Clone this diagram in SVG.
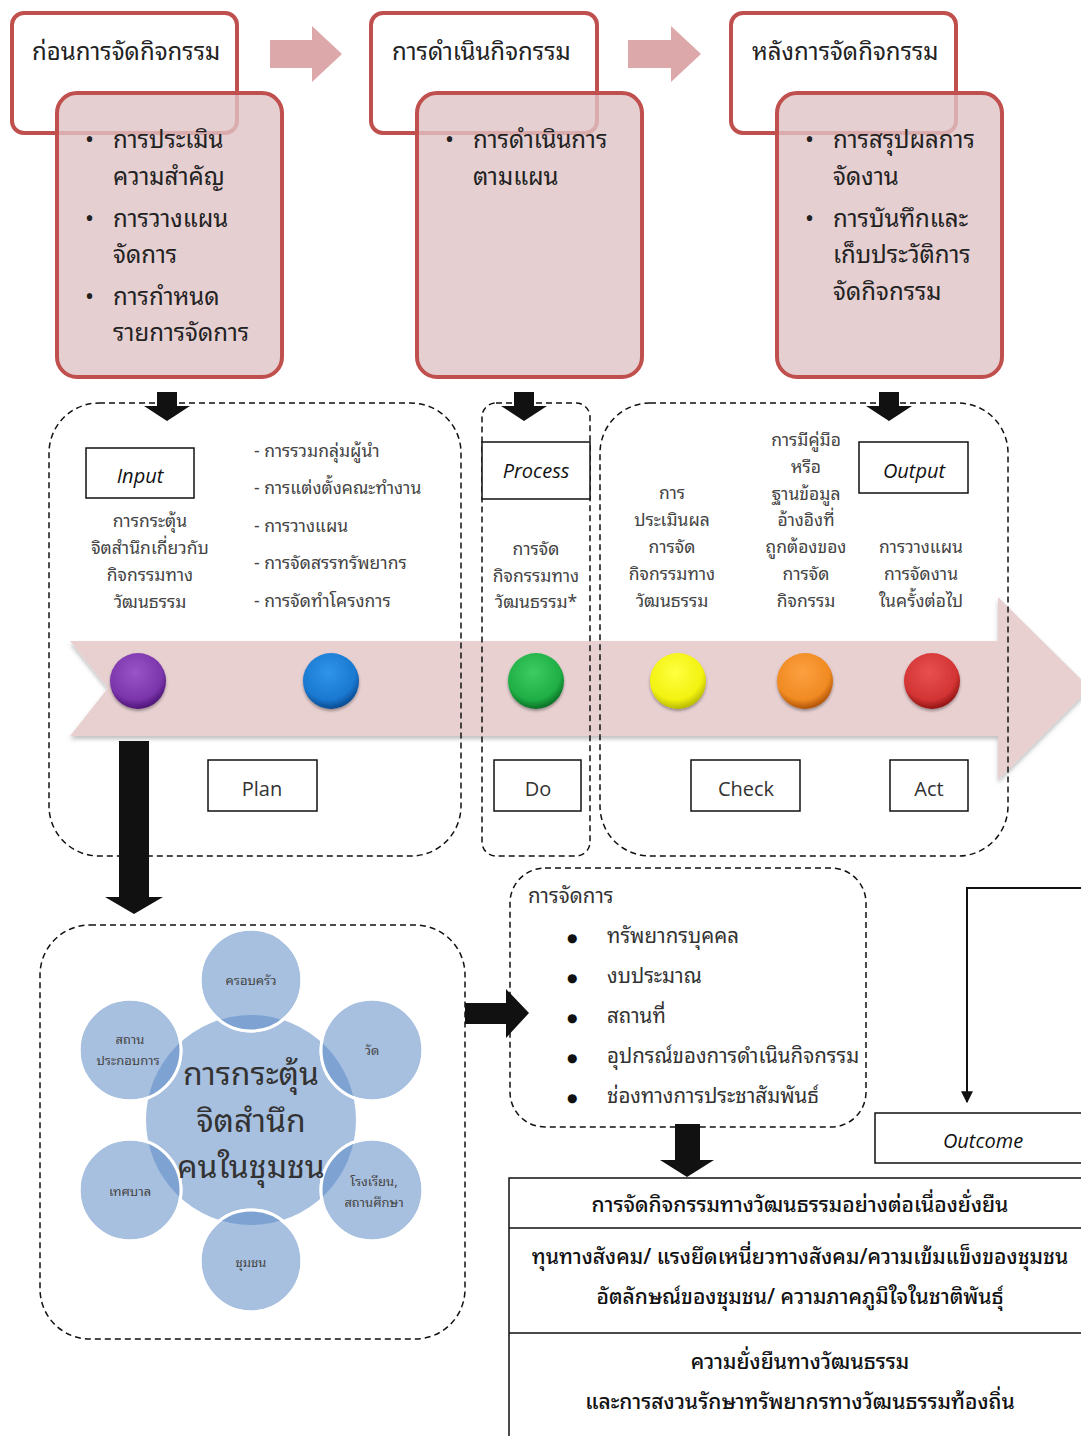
<svg xmlns="http://www.w3.org/2000/svg" width="1081" height="1436" viewBox="0 0 1081 1436">
<style>
text{font-family:"Noto Sans Thai Looped","Noto Sans Thai","Loma","Garuda","Norasi","Tlwg Typo","Noto Sans","DejaVu Sans",sans-serif;}
.en{font-family:"Open Sans","Noto Sans","Liberation Sans",sans-serif;}
.title{font-size:24px;fill:#222;}
.bul{font-size:24px;fill:#222;}
.small{font-size:17.5px;fill:#444;}
.mid{text-anchor:middle;}
.lbl{font-size:20px;fill:#333;text-anchor:middle;}
.ital{font-size:20px;fill:#111;font-style:italic;text-anchor:middle;}
.wbox{fill:#fff;stroke:#c0504d;stroke-width:4;}
.pbox{fill:#e0c3c5;fill-opacity:0.8;stroke:#c0504d;stroke-width:4;}
.dash{fill:none;stroke:#111;stroke-width:1.5;stroke-dasharray:6 4;}
.sbox{fill:#fff;stroke:#111;stroke-width:1.5;}
.blk{fill:#111;}
.parr{fill:#dca8aa;}
.sat{fill:#a8c0e0;stroke:#fff;stroke-width:3;}
.ovl{fill:#7ea3d3;}
.sattx{font-size:13px;fill:#444;text-anchor:middle;}
.mg{font-size:20.5px;fill:#333;}
.dot{font-size:12px;fill:#111;font-family:"DejaVu Sans",sans-serif;}
.tb{font-size:21px;fill:#111;text-anchor:middle;font-weight:500;}
</style>
<defs>
<filter id="sh" x="-10%" y="-10%" width="120%" height="130%">
<feDropShadow dx="0" dy="3" stdDeviation="2" flood-color="#000" flood-opacity="0.25"/>
</filter>
<filter id="bsh" x="-30%" y="-30%" width="160%" height="160%">
<feDropShadow dx="0" dy="2" stdDeviation="1.5" flood-color="#000" flood-opacity="0.35"/>
</filter>
<radialGradient id="gPurple" cx="45%" cy="35%" r="65%"><stop offset="0" stop-color="#9a55c8"/><stop offset="0.75" stop-color="#7a35aa"/><stop offset="1" stop-color="#4e1478"/></radialGradient>
<radialGradient id="gBlue" cx="45%" cy="35%" r="65%"><stop offset="0" stop-color="#2f95ea"/><stop offset="0.75" stop-color="#1a78d0"/><stop offset="1" stop-color="#0a4a90"/></radialGradient>
<radialGradient id="gGreen" cx="45%" cy="35%" r="65%"><stop offset="0" stop-color="#3ccc62"/><stop offset="0.75" stop-color="#1fae45"/><stop offset="1" stop-color="#0a6e25"/></radialGradient>
<radialGradient id="gYellow" cx="45%" cy="35%" r="65%"><stop offset="0" stop-color="#ffff40"/><stop offset="0.75" stop-color="#f2f210"/><stop offset="1" stop-color="#b8b800"/></radialGradient>
<radialGradient id="gOrange" cx="45%" cy="35%" r="65%"><stop offset="0" stop-color="#fca040"/><stop offset="0.75" stop-color="#f08a22"/><stop offset="1" stop-color="#b05208"/></radialGradient>
<radialGradient id="gRed" cx="45%" cy="35%" r="65%"><stop offset="0" stop-color="#e85050"/><stop offset="0.75" stop-color="#d33434"/><stop offset="1" stop-color="#901414"/></radialGradient>
<clipPath id="c1"><circle cx="251" cy="980" r="51"/></clipPath>
<clipPath id="c2"><circle cx="372" cy="1050" r="51"/></clipPath>
<clipPath id="c3"><circle cx="372" cy="1190" r="51"/></clipPath>
<clipPath id="c4"><circle cx="251" cy="1261" r="51"/></clipPath>
<clipPath id="c5"><circle cx="130" cy="1190" r="51"/></clipPath>
<clipPath id="c6"><circle cx="130" cy="1050" r="51"/></clipPath>
<marker id="ah" viewBox="0 0 10 10" refX="9" refY="5" markerWidth="6" markerHeight="6" orient="auto"><path d="M0,0 L10,5 L0,10 Z" fill="#111"/></marker>
</defs>

<rect width="1081" height="1436" fill="#fff"/>

<!-- Top stages -->
<g id="stage-before">
<rect class="wbox" x="12" y="13" width="225" height="120" rx="12"/>
<text class="title" x="32" y="60">ก่อนการจัดกิจกรรม</text>
<rect class="pbox" x="57" y="93" width="225" height="284" rx="20"/>
<text class="bul" x="85" y="148">•</text><text class="bul" x="113" y="148">การประเมิน</text>
<text class="bul" x="113" y="185">ความสำคัญ</text>
<text class="bul" x="85" y="227">•</text><text class="bul" x="113" y="227">การวางแผน</text>
<text class="bul" x="113" y="263">จัดการ</text>
<text class="bul" x="85" y="305">•</text><text class="bul" x="113" y="305">การกำหนด</text>
<text class="bul" x="113" y="341">รายการจัดการ</text>
</g>
<g id="stage-during">
<rect class="wbox" x="371" y="13" width="226" height="120" rx="12"/>
<text class="title" x="392" y="60">การดำเนินกิจกรรม</text>
<rect class="pbox" x="417" y="93" width="225" height="284" rx="20"/>
<text class="bul" x="445" y="148">•</text><text class="bul" x="473" y="148">การดำเนินการ</text>
<text class="bul" x="473" y="185">ตามแผน</text>
</g>
<g id="stage-after">
<rect class="wbox" x="731" y="13" width="225" height="120" rx="12"/>
<text class="title" x="752" y="60">หลังการจัดกิจกรรม</text>
<rect class="pbox" x="777" y="93" width="225" height="284" rx="20"/>
<text class="bul" x="805" y="148">•</text><text class="bul" x="833" y="148">การสรุปผลการ</text>
<text class="bul" x="833" y="185">จัดงาน</text>
<text class="bul" x="805" y="227">•</text><text class="bul" x="833" y="227">การบันทึกและ</text>
<text class="bul" x="833" y="263">เก็บประวัติการ</text>
<text class="bul" x="833" y="300">จัดกิจกรรม</text>
</g>

<!-- Big timeline arrow -->
<g id="timeline">
<path d="M70,641 L998,641 L998,597 L1090,688 L998,780 L998,736 L70,736 L108,688 Z" fill="#e8d0d1" filter="url(#sh)"/>
<g filter="url(#bsh)">
<circle cx="138" cy="681" r="28" fill="url(#gPurple)"/>
<circle cx="331" cy="681" r="28" fill="url(#gBlue)"/>
<circle cx="536" cy="681" r="28" fill="url(#gGreen)"/>
<circle cx="678" cy="681" r="28" fill="url(#gYellow)"/>
<circle cx="805" cy="681" r="28" fill="url(#gOrange)"/>
<circle cx="932" cy="681" r="28" fill="url(#gRed)"/>
</g>
</g>

<!-- Dashed phase groups -->
<g id="group-plan"><rect class="dash" x="49" y="403" width="412" height="453" rx="50"/></g>
<g id="group-do"><rect class="dash" x="482" y="403" width="108" height="453" rx="14"/></g>
<g id="group-check-act"><rect class="dash" x="600" y="403" width="408" height="453" rx="50"/></g>

<g id="input">
<rect class="sbox" x="86" y="448" width="108" height="50"/>
<text class="ital en" x="140" y="483">Input</text>
<text class="small mid" x="150" y="527">การกระตุ้น</text>
<text class="small mid" x="150" y="554">จิตสำนึกเกี่ยวกับ</text>
<text class="small mid" x="150" y="581">กิจกรรมทาง</text>
<text class="small mid" x="150" y="608">วัฒนธรรม</text>
</g>
<g id="plan-list">
<text class="small" x="254" y="457">- การรวมกลุ่มผู้นำ</text>
<text class="small" x="254" y="494">- การแต่งตั้งคณะทำงาน</text>
<text class="small" x="254" y="532">- การวางแผน</text>
<text class="small" x="254" y="569">- การจัดสรรทรัพยากร</text>
<text class="small" x="254" y="607">- การจัดทำโครงการ</text>
</g>
<g id="process">
<rect class="sbox" x="482" y="442" width="108" height="57"/>
<text class="ital en" x="536" y="478">Process</text>
<text class="small mid" x="536" y="555">การจัด</text>
<text class="small mid" x="536" y="582">กิจกรรมทาง</text>
<text class="small mid" x="536" y="608">วัฒนธรรม*</text>
</g>
<g id="check-text">
<text class="small mid" x="672" y="499">การ</text>
<text class="small mid" x="672" y="526">ประเมินผล</text>
<text class="small mid" x="672" y="553">การจัด</text>
<text class="small mid" x="672" y="580">กิจกรรมทาง</text>
<text class="small mid" x="672" y="607">วัฒนธรรม</text>
</g>
<g id="manual-text">
<text class="small mid" x="806" y="446">การมีคู่มือ</text>
<text class="small mid" x="806" y="473">หรือ</text>
<text class="small mid" x="806" y="500">ฐานข้อมูล</text>
<text class="small mid" x="806" y="526">อ้างอิงที่</text>
<text class="small mid" x="806" y="553">ถูกต้องของ</text>
<text class="small mid" x="806" y="580">การจัด</text>
<text class="small mid" x="806" y="607">กิจกรรม</text>
</g>
<g id="output">
<rect class="sbox" x="859" y="442" width="109" height="51"/>
<text class="ital en" x="914" y="478">Output</text>
<text class="small mid" x="921" y="553">การวางแผน</text>
<text class="small mid" x="921" y="580">การจัดงาน</text>
<text class="small mid" x="921" y="607">ในครั้งต่อไป</text>
</g>

<g id="plan"><rect class="sbox" x="208" y="760" width="109" height="51"/><text class="lbl en" x="262" y="796">Plan</text></g>
<g id="do"><rect class="sbox" x="494" y="760" width="87" height="51"/><text class="lbl en" x="538" y="796">Do</text></g>
<g id="check"><rect class="sbox" x="691" y="760" width="109" height="51"/><text class="lbl en" x="746" y="796">Check</text></g>
<g id="act"><rect class="sbox" x="890" y="760" width="78" height="51"/><text class="lbl en" x="929" y="796">Act</text></g>

<!-- Community cluster -->
<g id="community">
<rect class="dash" x="40" y="925" width="425" height="414" rx="50"/>
<circle cx="251" cy="1120" r="105" fill="#a8c0e0"/>
</g>
<g id="sat-family"><circle class="sat" cx="251" cy="980" r="51"/><circle class="ovl" cx="251" cy="1120" r="105" clip-path="url(#c1)"/><circle cx="251" cy="980" r="51" fill="none" stroke="#fff" stroke-width="3"/><text class="sattx" x="251" y="985">ครอบครัว</text></g>
<g id="sat-temple"><circle class="sat" cx="372" cy="1050" r="51"/><circle class="ovl" cx="251" cy="1120" r="105" clip-path="url(#c2)"/><circle cx="372" cy="1050" r="51" fill="none" stroke="#fff" stroke-width="3"/><text class="sattx" x="372" y="1055">วัด</text></g>
<g id="sat-school"><circle class="sat" cx="372" cy="1190" r="51"/><circle class="ovl" cx="251" cy="1120" r="105" clip-path="url(#c3)"/><circle cx="372" cy="1190" r="51" fill="none" stroke="#fff" stroke-width="3"/><text class="sattx" x="374" y="1186">โรงเรียน,</text><text class="sattx" x="374" y="1207">สถานศึกษา</text></g>
<g id="sat-community"><circle class="sat" cx="251" cy="1261" r="51"/><circle class="ovl" cx="251" cy="1120" r="105" clip-path="url(#c4)"/><circle cx="251" cy="1261" r="51" fill="none" stroke="#fff" stroke-width="3"/><text class="sattx" x="251" y="1267">ชุมชน</text></g>
<g id="sat-municipal"><circle class="sat" cx="130" cy="1190" r="51"/><circle class="ovl" cx="251" cy="1120" r="105" clip-path="url(#c5)"/><circle cx="130" cy="1190" r="51" fill="none" stroke="#fff" stroke-width="3"/><text class="sattx" x="130" y="1196">เทศบาล</text></g>
<g id="sat-business"><circle class="sat" cx="130" cy="1050" r="51"/><circle class="ovl" cx="251" cy="1120" r="105" clip-path="url(#c6)"/><circle cx="130" cy="1050" r="51" fill="none" stroke="#fff" stroke-width="3"/><text class="sattx" x="130" y="1044">สถาน</text><text class="sattx" x="128" y="1065">ประกอบการ</text></g>
<g id="center-text">
<text x="251" y="1085" font-size="32" fill="#333" text-anchor="middle">การกระตุ้น</text>
<text x="251" y="1132" font-size="32" fill="#333" text-anchor="middle">จิตสำนึก</text>
<text x="251" y="1178" font-size="32" fill="#333" text-anchor="middle">คนในชุมชน</text>
</g>

<!-- Management -->
<g id="management">
<rect class="dash" x="510" y="868" width="356" height="259" rx="35"/>
<text class="mg" x="528" y="903">การจัดการ</text>
<text class="dot" x="567" y="942">●</text><text class="mg" x="607" y="943">ทรัพยากรบุคคล</text>
<text class="dot" x="567" y="982">●</text><text class="mg" x="607" y="983">งบประมาณ</text>
<text class="dot" x="567" y="1022">●</text><text class="mg" x="607" y="1023">สถานที่</text>
<text class="dot" x="567" y="1062">●</text><text class="mg" x="607" y="1063">อุปกรณ์ของการดำเนินกิจกรรม</text>
<text class="dot" x="567" y="1102">●</text><text class="mg" x="607" y="1103">ช่องทางการประชาสัมพันธ์</text>
</g>

<g id="outcome">
<rect class="sbox" x="875" y="1113" width="215" height="50"/>
<text class="ital en" x="983" y="1148">Outcome</text>
</g>

<g id="results">
<rect class="sbox" x="509" y="1178" width="590" height="270"/>
<line x1="509" y1="1228" x2="1090" y2="1228" stroke="#111" stroke-width="1.5"/>
<line x1="509" y1="1333" x2="1090" y2="1333" stroke="#111" stroke-width="1.5"/>
<text class="tb" x="800" y="1212">การจัดกิจกรรมทางวัฒนธรรมอย่างต่อเนื่องยั่งยืน</text>
<text class="tb" x="800" y="1264">ทุนทางสังคม/ แรงยึดเหนี่ยวทางสังคม/ความเข้มแข็งของชุมชน</text>
<text class="tb" x="800" y="1304">อัตลักษณ์ของชุมชน/ ความภาคภูมิใจในชาติพันธุ์</text>
<text class="tb" x="800" y="1369">ความยั่งยืนทางวัฒนธรรม</text>
<text class="tb" x="800" y="1409">และการสงวนรักษาทรัพยากรทางวัฒนธรรมท้องถิ่น</text>
</g>

<!-- Connectors -->
<g id="connectors">
<path class="parr" d="M270,40 L312,40 L312,26 L342,54 L312,82 L312,68 L270,68 Z"/>
<path class="parr" d="M628,40 L671,40 L671,26 L701,54 L671,82 L671,68 L628,68 Z"/>
<path class="blk" d="M157,392 L177,392 L177,406 L190,406 L167,421 L144,406 L157,406 Z"/>
<path class="blk" d="M514,392 L534,392 L534,406 L547,406 L524,421 L501,406 L514,406 Z"/>
<path class="blk" d="M879,392 L899,392 L899,406 L912,406 L889,421 L866,406 L879,406 Z"/>
<path class="blk" d="M119,741 L149,741 L149,897 L163,897 L134,914 L105,897 L119,897 Z"/>
<path class="blk" d="M465,1003 L506,1003 L506,989 L529,1013 L506,1038 L506,1024 L465,1024 Z"/>
<path class="blk" d="M675,1124 L700,1124 L700,1160 L714,1160 L687,1177 L660,1160 L675,1160 Z"/>
<path d="M1090,888 L967,888 L967,1102" fill="none" stroke="#111" stroke-width="2" marker-end="url(#ah)"/>
</g>
</svg>
